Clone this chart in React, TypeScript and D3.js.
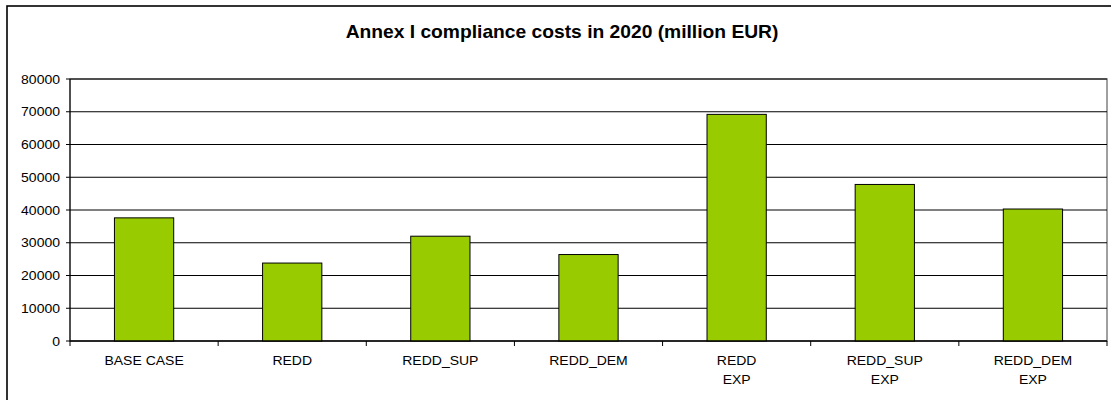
import React from "react";
import * as d3 from "d3";

const title = "Annex I compliance costs in 2020 (million EUR)";
const categories = ["BASE CASE", "REDD", "REDD_SUP", "REDD_DEM", "REDD\nEXP", "REDD_SUP\nEXP", "REDD_DEM\nEXP"];
const costs = [37600, 23800, 32000, 26400, 69200, 47800, 40300];
const yTicks = [0, 10000, 20000, 30000, 40000, 50000, 60000, 70000, 80000];

const W = 1111;
const H = 400;
const plot = { left: 70, right: 1107, top: 79, bottom: 341 };
const FONT = "Arial, 'Liberation Sans', Helvetica, sans-serif";

export default function App() {
  const x = d3
    .scaleBand<string>()
    .domain(categories)
    .range([plot.left, plot.right])
    .paddingInner(0.6)
    .paddingOuter(0.3);
  const y = d3.scaleLinear().domain([0, 80000]).range([plot.bottom, plot.top]);
  const step = x.step();
  const boundaries = d3.range(categories.length + 1).map((i) => plot.left + i * step);

  return (
    <svg
      width={W}
      height={H}
      style={{ position: "absolute", left: 0, top: 0, background: "#fff" }}
      fontFamily={FONT}
    >
      <rect x={0} y={0} width={W} height={H} fill="#fff" />
      {/* outer chart border */}
      <rect x={7} y={6} width={W + 20} height={H + 20} fill="none" stroke="#000" strokeWidth={1.6} />
      {/* title */}
      <text
        transform={`translate(562,38) scale(1.1,1)`}
        textAnchor="middle"
        fontSize={17.5}
        fontWeight="bold"
        fill="#000"
      >
        {title}
      </text>
      {/* plot area frame */}
      <rect
        x={plot.left}
        y={plot.top}
        width={plot.right - plot.left}
        height={plot.bottom - plot.top}
        fill="#fff"
        stroke="#808080"
        strokeWidth={1.5}
      />
      {/* gridlines */}
      {yTicks.map((t) => (
        <line
          key={"g" + t}
          x1={plot.left}
          x2={plot.right}
          y1={y(t)}
          y2={y(t)}
          stroke="#000"
          strokeWidth={1}
        />
      ))}
      {/* bars */}
      {categories.map((c, i) => (
        <rect
          key={"b" + c}
          x={x(c)}
          y={y(costs[i])}
          width={x.bandwidth()}
          height={y(0) - y(costs[i])}
          fill="#99CC00"
          stroke="#000"
          strokeWidth={1}
        />
      ))}
      {/* y axis */}
      <line x1={plot.left} x2={plot.left} y1={plot.top} y2={plot.bottom} stroke="#000" strokeWidth={1} />
      {yTicks.map((t) => (
        <g key={"yt" + t}>
          <line x1={plot.left - 4} x2={plot.left} y1={y(t)} y2={y(t)} stroke="#000" strokeWidth={1} />
          <text
            transform={`translate(60,${y(t) + 4.5}) scale(1.12,1)`}
            textAnchor="end"
            fontSize={12.5}
            fill="#000"
          >
            {t}
          </text>
        </g>
      ))}
      {/* x axis */}
      <line x1={plot.left} x2={plot.right} y1={plot.bottom} y2={plot.bottom} stroke="#000" strokeWidth={1} />
      {boundaries.map((b, i) => (
        <line key={"xt" + i} x1={b} x2={b} y1={plot.bottom} y2={plot.bottom + 5} stroke="#000" strokeWidth={1} />
      ))}
      {categories.map((c) => {
        const cx = (x(c) as number) + x.bandwidth() / 2;
        return c.split("\n").map((line, j) => (
          <text
            key={"xl" + c + j}
            transform={`translate(${cx},${364.5 + j * 19}) scale(1.12,1)`}
            textAnchor="middle"
            fontSize={12.5}
            fill="#000"
          >
            {line}
          </text>
        ));
      })}
    </svg>
  );
}
